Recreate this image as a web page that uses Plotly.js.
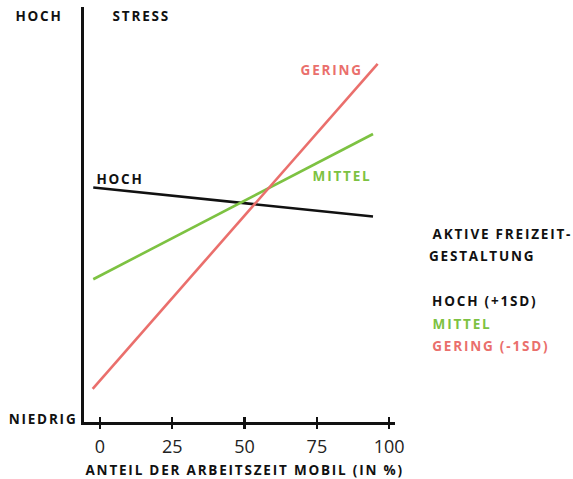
<!DOCTYPE html>
<html>
<head>
<meta charset="utf-8">
<script src="https://cdn.plot.ly/plotly-3.0.1.min.js"></script>
<style>
html,body{margin:0;padding:0;background:#fff;}
#chart{width:573px;height:479px;}
#chart .annotation-text{letter-spacing:1.8px;}
</style>
</head>
<body>
<div id="chart"></div>
<script>
// Data (stress on an arbitrary 0-100 scale; x = share of mobile working time in %)
var xStart = [-2.3, -2.3, -2.5];
var xEnd = [94.4, 94.4, 96];
var seriesNames = ["HOCH", "MITTEL", "GERING"];
var stressHoch = [56.5, 49.5];
var stressMittel = [34.4, 69.4];
var stressGering = [8.0, 86.3];
var xTicks = [0, 25, 50, 75, 100];
var xTickLabels = ["0", "25", "50", "75", "100"];

var colors = ["#111111", "#7dc242", "#ea6f6c"];
var ys = [stressHoch, stressMittel, stressGering];

var traces = seriesNames.map(function(n, i){
  return {x:[xStart[i], xEnd[i]], y:ys[i], mode:"lines", name:n,
    line:{color:colors[i], width:2.6}, hoverinfo:"skip", showlegend:false};
});
traces.push({x:[xTicks[0]], y:[0], xaxis:"x2", mode:"markers", marker:{opacity:0}, showlegend:false, hoverinfo:"skip"});

function ann(text, cx, py, color){
  return {text:"<b>"+text+"</b>", xref:"paper", yref:"paper",
    x:(cx + 0.9 - 84)/311, y:(422-py)/415, xanchor:"center", yanchor:"middle",
    showarrow:false, font:{family:"Open Sans", size:13.5, color:color||"#111"}};
}

var layout = {
  width:573, height:479,
  margin:{l:84, r:178, t:7, b:57},
  paper_bgcolor:"#fff", plot_bgcolor:"#fff",
  showlegend:false,
  xaxis:{range:[-5.5, 102], tickvals:xTicks, ticktext:xTickLabels,
    showgrid:false, zeroline:false, showline:true, linecolor:"#111", linewidth:3,
    ticks:"outside", ticklen:4, tickwidth:2.5, tickcolor:"#111", ticklabelstandoff:2,
    tickfont:{family:"Open Sans", size:18, color:"#222"}, fixedrange:true},
  xaxis2:{range:[-5.5, 102], overlaying:"x", side:"bottom", tickvals:xTicks, showticklabels:false,
    showgrid:false, zeroline:false, showline:false,
    ticks:"inside", ticklen:5, tickwidth:2.5, tickcolor:"#111", anchor:"y"},
  yaxis:{range:[0, 100], showgrid:false, zeroline:false, showline:true, linecolor:"#111", linewidth:3,
    ticks:"", showticklabels:false, fixedrange:true},
  annotations:[
    ann("HOCH", 38.5, 16),
    ann("STRESS", 141, 16),
    ann("NIEDRIG", 42, 419),
    ann("HOCH", 119, 179),
    ann("MITTEL", 341.5, 176, colors[1]),
    ann("GERING", 330.5, 70, colors[2]),
    ann("AKTIVE FREIZEIT-", 502, 234),
    ann("GESTALTUNG", 481.5, 256),
    ann("HOCH (+1SD)", 484, 301),
    ann("MITTEL", 461.5, 324, colors[1]),
    ann("GERING (-1SD)", 490.5, 346, colors[2]),
    ann("ANTEIL DER ARBEITSZEIT MOBIL (IN %)", 244.5, 470)
  ]
};
Plotly.newPlot("chart", traces, layout, {displayModeBar:false, staticPlot:true});
</script>
</body>
</html>
